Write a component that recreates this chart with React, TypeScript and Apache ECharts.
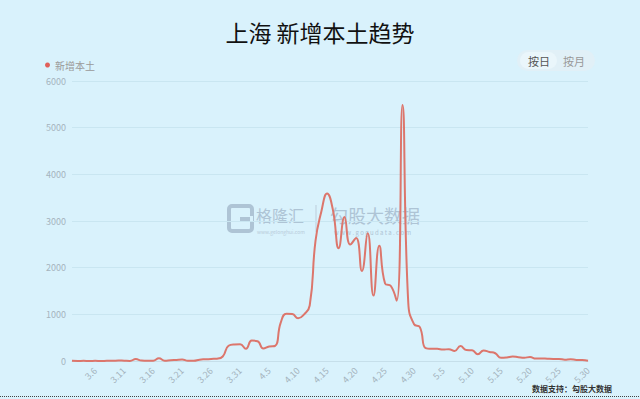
import React, { useEffect, useRef } from "react";
import * as echarts from "echarts";

const categories: string[] = [
  "3.2", "3.3", "3.4", "3.5", "3.6", "3.7", "3.8", "3.9", "3.10", "3.11",
  "3.12", "3.13", "3.14", "3.15", "3.16", "3.17", "3.18", "3.19", "3.20", "3.21",
  "3.22", "3.23", "3.24", "3.25", "3.26", "3.27", "3.28", "3.29", "3.30", "3.31",
  "4.1", "4.2", "4.3", "4.4", "4.5", "4.6", "4.7", "4.8", "4.9", "4.10",
  "4.11", "4.12", "4.13", "4.14", "4.15", "4.16", "4.17", "4.18", "4.19", "4.20",
  "4.21", "4.22", "4.23", "4.24", "4.25", "4.26", "4.27", "4.28", "4.29", "4.30",
  "5.1", "5.2", "5.3", "5.4", "5.5", "5.6", "5.7", "5.8", "5.9", "5.10",
  "5.11", "5.12", "5.13", "5.14", "5.15", "5.16", "5.17", "5.18", "5.19", "5.20",
  "5.21", "5.22", "5.23", "5.24", "5.25", "5.26", "5.27", "5.28", "5.29", "5.30",
];

const newLocal: number[] = [
  3, 2, 3, 0, 3, 0, 3, 4, 11, 5,
  1, 41, 9, 5, 8, 57, 8, 17, 24, 31,
  4, 4, 29, 38, 45, 50, 96, 326, 355, 358,
  260, 438, 425, 268, 311, 322, 824, 1015, 1006, 914,
  994, 1189, 2573, 3200, 3590, 3238, 2417, 3084, 2494, 2634,
  1931, 2736, 1401, 2472, 1661, 1606, 1292, 5487, 1249, 788,
  727, 274, 260, 261, 245, 253, 215, 322, 234, 228,
  144, 227, 194, 166, 69, 77, 96, 82, 71, 84,
  52, 55, 48, 44, 45, 29, 39, 22, 20, 5,
];

const shownLabels: string[] = [
  "3.6", "3.11", "3.16", "3.21", "3.26", "3.31", "4.5", "4.10", "4.15",
  "4.20", "4.25", "4.30", "5.5", "5.10", "5.15", "5.20", "5.25", "5.30",
];

const FONT = "'Noto Sans CJK SC', 'Noto Sans', sans-serif";
const BG = "#d9f2fc";
const WM = "#aec4d5";

export default function App() {
  const ref = useRef<HTMLDivElement>(null);

  useEffect(() => {
    document.body.style.margin = "0";
    if (!ref.current) return;
    const chart = echarts.init(ref.current, undefined, { renderer: "svg" });
    chart.setOption({
      animation: false,
      backgroundColor: BG,
      textStyle: { fontFamily: FONT },
      title: {
        text: "上海 新增本土趋势",
        left: "center",
        top: 15,
        textStyle: { fontSize: 23, fontWeight: "normal", color: "#111", fontFamily: FONT },
      },
      legend: {
        data: ["新增本土"],
        left: 40,
        top: 55,
        icon: "circle",
        itemWidth: 5,
        itemHeight: 5,
        itemGap: 4,
        textStyle: { fontSize: 10, color: "#999", fontFamily: FONT },
      },
      grid: { left: 72, right: 52, top: 81, bottom: 38 },
      xAxis: {
        type: "category",
        data: categories,
        boundaryGap: false,
        axisLine: { show: true, lineStyle: { color: "#c6dfea", width: 1 } },
        axisTick: { show: false },
        axisLabel: {
          rotate: 45,
          fontSize: 9,
          color: "#a5b4be",
          margin: 8,
          interval: (_i: number, v: string) => shownLabels.indexOf(v) >= 0,
          fontFamily: FONT,
        },
        splitLine: { show: false },
      },
      yAxis: {
        type: "value",
        min: 0,
        max: 6000,
        interval: 1000,
        axisLine: { show: false },
        axisTick: { show: false },
        axisLabel: {
          fontSize: 9,
          color: "#a5b4be",
          margin: 6,
          fontFamily: FONT,
          formatter: (v: number) => String(v),
        },
        splitLine: { lineStyle: { color: "#c9e6f1", width: 1 } },
      },
      series: [
        {
          name: "新增本土",
          type: "line",
          data: newLocal,
          smooth: true,
          showSymbol: false,
          symbol: "circle",
          lineStyle: { color: "#dc766c", width: 2 },
          itemStyle: { color: "#e0605a" },
        },
      ],
      graphic: [
        // toggle pill
        {
          type: "rect",
          shape: { x: 517, y: 50, width: 78, height: 21, r: 10.5 },
          style: { fill: "#e1f0f7" },
        },
        {
          type: "rect",
          shape: { x: 520, y: 52, width: 37, height: 17, r: 8.5 },
          style: { fill: "#eaf6fb" },
        },
        {
          type: "text",
          x: 539,
          y: 61,
          style: { text: "按日", fontSize: 11, fill: "#555", align: "center", verticalAlign: "middle", fontFamily: FONT },
        },
        {
          type: "text",
          x: 574,
          y: 61,
          style: { text: "按月", fontSize: 11, fill: "#999", align: "center", verticalAlign: "middle", fontFamily: FONT },
        },
        // watermark
        {
          type: "group",
          silent: true,
          children: [
            {
              type: "rect",
              shape: { x: 229, y: 206, width: 23, height: 25, r: 3 },
              style: { fill: "none", stroke: WM, lineWidth: 4 },
            },
            {
              type: "rect",
              shape: { x: 240, y: 216, width: 13, height: 6 },
              style: { fill: BG },
            },
            {
              type: "rect",
              shape: { x: 240, y: 217, width: 10, height: 4 },
              style: { fill: WM },
            },
            {
              type: "text",
              x: 256,
              y: 215,
              style: { text: "格隆汇", fontSize: 16, fill: WM, verticalAlign: "middle", fontFamily: FONT },
            },
            {
              type: "text",
              x: 257,
              y: 231,
              style: { text: "www.gelonghui.com", fontSize: 5, fill: "#b8cbda", verticalAlign: "middle", fontFamily: FONT },
            },
            {
              type: "line",
              shape: { x1: 316, y1: 205, x2: 316, y2: 232 },
              style: { stroke: "#bccddb", lineWidth: 1 },
            },
            {
              type: "text",
              x: 330,
              y: 215,
              style: { text: "勾股大数据", fontSize: 18, fill: WM, verticalAlign: "middle", fontFamily: FONT },
            },
            {
              type: "text",
              x: 334,
              y: 232,
              style: { text: "w w w . g o g u d a t a . c o m", fontSize: 6, fill: WM, verticalAlign: "middle", fontFamily: FONT },
            },
          ],
        },
        // source note
        {
          type: "text",
          x: 532,
          y: 388,
          style: { text: "数据支持：勾股大数据", fontSize: 8, fontWeight: "bold", fill: "#333", verticalAlign: "middle", fontFamily: FONT },
        },
        // bottom dotted rule
        {
          type: "line",
          shape: { x1: 0, y1: 396.5, x2: 640, y2: 396.5 },
          style: { stroke: "#444", lineWidth: 1, lineDash: [1, 1] },
        },
      ],
    });
    return () => chart.dispose();
  }, []);

  return (
    <div
      ref={ref}
      style={{ position: "absolute", left: 0, top: 0, width: 640, height: 399 }}
    />
  );
}
